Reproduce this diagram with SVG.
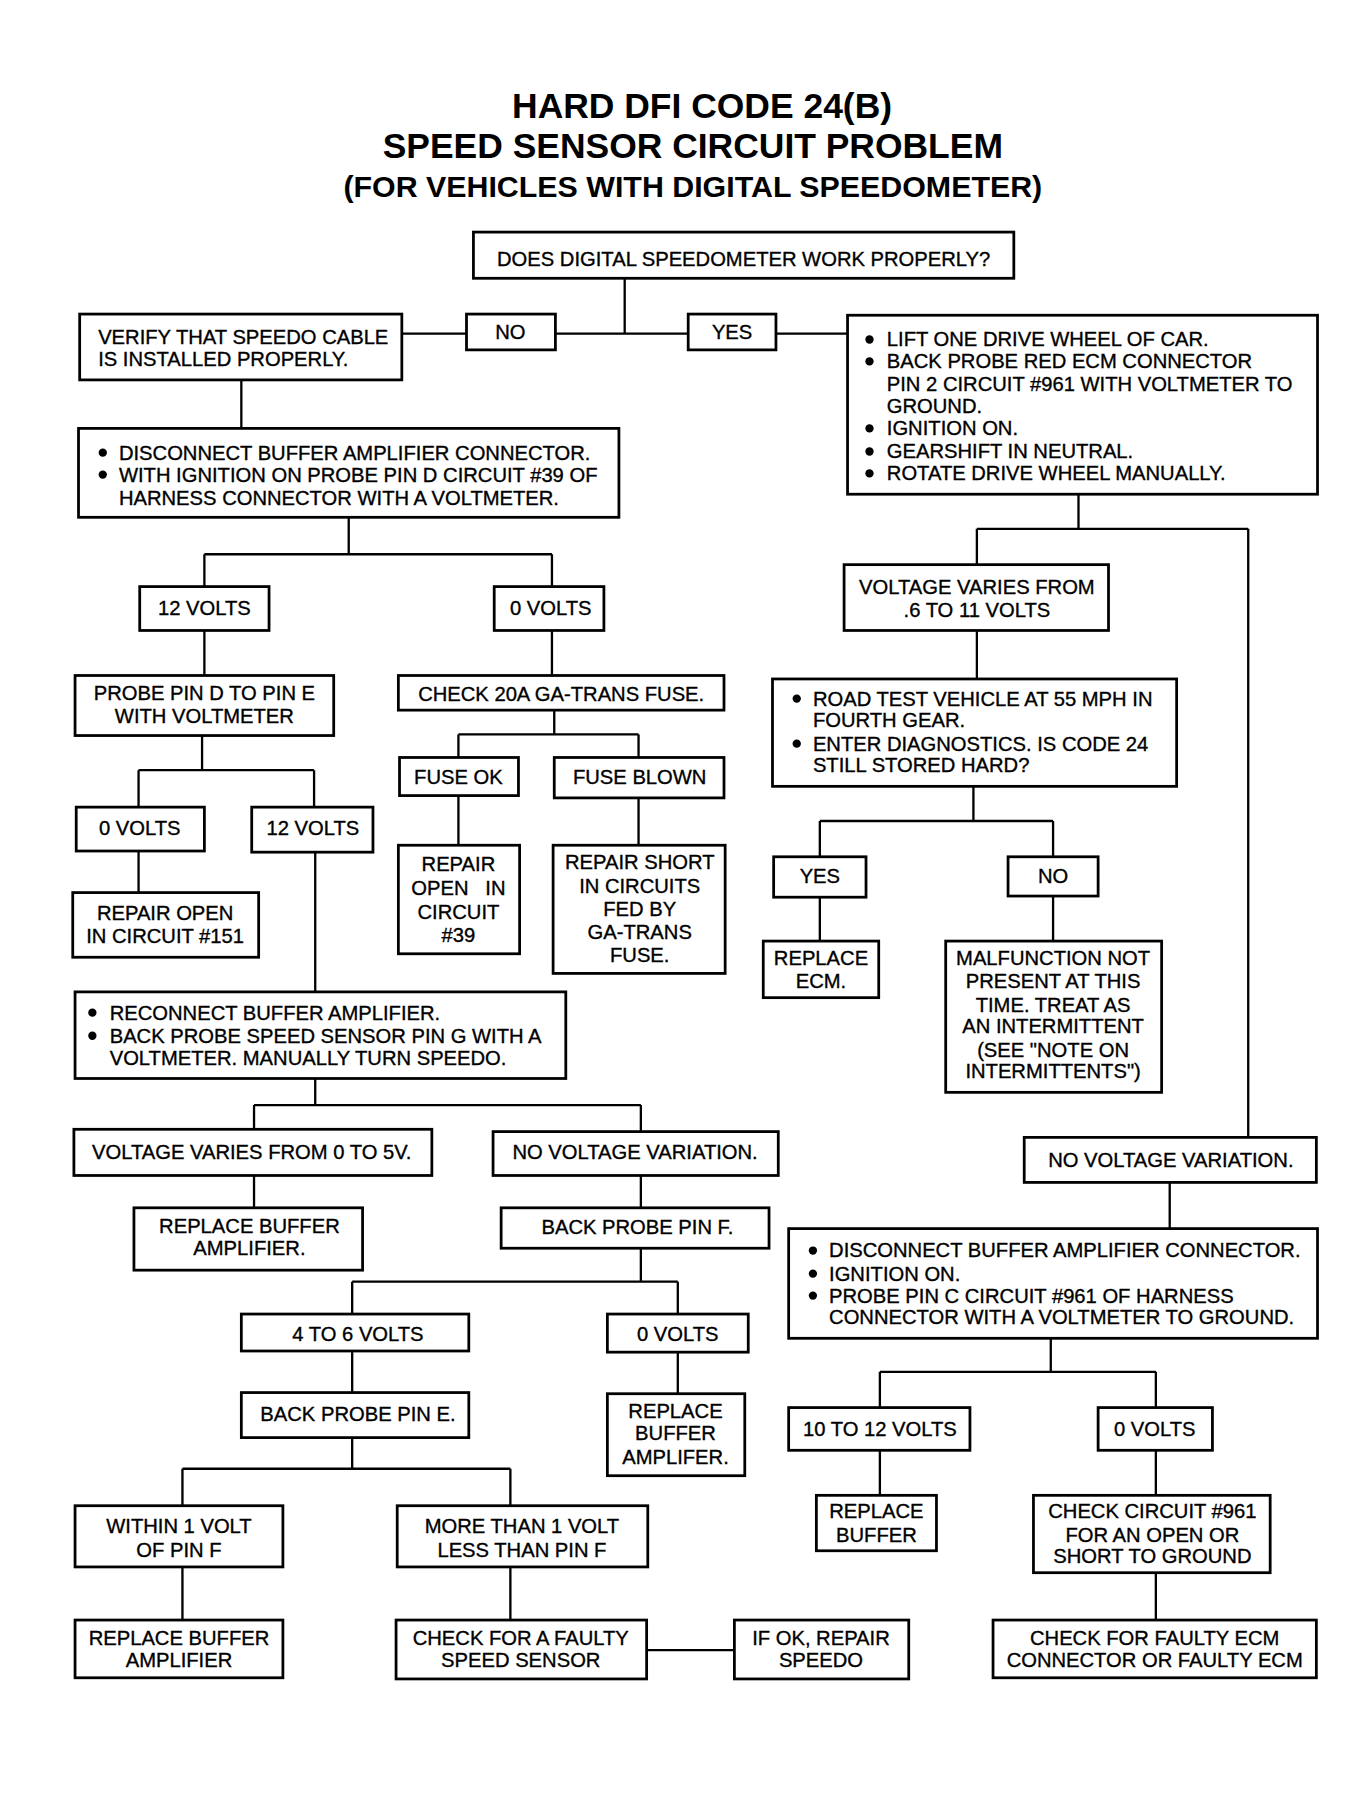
<svg xmlns="http://www.w3.org/2000/svg" width="1370" height="1810" viewBox="0 0 1370 1810">
<style>
rect.b{fill:#fff;stroke:#000;stroke-width:2.4}
.c{fill:none;stroke:#000;stroke-width:2}
text{font-family:"Liberation Sans",Arial,sans-serif;font-size:17.5px;fill:#000;stroke:#000;stroke-width:0.3}
.m{text-anchor:middle}
.t1{font-size:30.7px;font-weight:bold;text-anchor:middle;stroke-width:0}
.t3{font-size:26.3px;font-weight:bold;text-anchor:middle;stroke-width:0}
.pre{white-space:pre}
</style>
<defs><circle id="dot" r="3.6" fill="#000"/></defs>
<rect width="1370" height="1810" fill="#fff"/>
<g transform="scale(1.1547)">
<g id="title">
<text class="t1" x="608" y="102">HARD DFI CODE 24(B)</text>
<text class="t1" x="600" y="137">SPEED SENSOR CIRCUIT PROBLEM</text>
<text class="t3" x="600" y="171">(FOR VEHICLES WITH DIGITAL SPEEDOMETER)</text>
</g>
<g id="connectors">
<path class="c" d="M541,241V289M348,289H404M481,289H596M672,289H734"/>
<path class="c" d="M209,329V371"/>
<path class="c" d="M302,448V480M177,480H478M177,480V508M478,480V508"/>
<path class="c" d="M177,546V585M478,546V585"/>
<path class="c" d="M934,428V458M846,458H1081M846,458V489M1081,458V985"/>
<path class="c" d="M846,546V588"/>
<path class="c" d="M175,637V667M120,667H272M120,667V699M272,667V699"/>
<path class="c" d="M480,615V636M397,636H553M397,636V656M553,636V656"/>
<path class="c" d="M397,689V732M553,691V732"/>
<path class="c" d="M843,681V711M710,711H912M710,711V742M912,711V742"/>
<path class="c" d="M710,777V815M912,776V815"/>
<path class="c" d="M120,737V773"/>
<path class="c" d="M273,738V859"/>
<path class="c" d="M273,934V957M220,957H555M220,957V978M555,957V980"/>
<path class="c" d="M220,1018V1046M555,1018V1046M1013,1024V1064"/>
<path class="c" d="M555,1081V1110M305,1110H587M305,1110V1138M587,1110V1138"/>
<path class="c" d="M305,1170V1206M587,1171V1207"/>
<path class="c" d="M305,1245V1272M158,1272H442M158,1272V1304M442,1272V1304"/>
<path class="c" d="M158,1357V1403M442,1357V1403M560,1429H636"/>
<path class="c" d="M910,1159V1188M762,1188H1001M762,1188V1219M1001,1188V1219"/>
<path class="c" d="M762,1256V1295M1001,1256V1295M1001,1362V1403"/>
</g>
<g id="q"><rect class="b" x="410" y="201" width="468" height="40"/><text class="m" x="644" y="230">DOES DIGITAL SPEEDOMETER WORK PROPERLY?</text></g>
<g id="no1"><rect class="b" x="404" y="272" width="77" height="31"/><text class="m" x="442" y="294">NO</text></g>
<g id="yes1"><rect class="b" x="596" y="272" width="76" height="31"/><text class="m" x="634" y="294">YES</text></g>
<g id="verify"><rect class="b" x="69" y="272" width="279" height="57"/><text x="85" y="298">VERIFY THAT SPEEDO CABLE</text><text x="85" y="317">IS INSTALLED PROPERLY.</text></g>
<g id="lift"><rect class="b" x="734" y="273" width="407" height="155"/>
<use href="#dot" x="753" y="294"/><use href="#dot" x="753" y="313"/><use href="#dot" x="753" y="371"/><use href="#dot" x="753" y="391"/><use href="#dot" x="753" y="410"/>
<text x="768" y="300">LIFT ONE DRIVE WHEEL OF CAR.</text><text x="768" y="319">BACK PROBE RED ECM CONNECTOR</text><text x="768" y="339">PIN 2 CIRCUIT #961 WITH VOLTMETER TO</text><text x="768" y="358">GROUND.</text><text x="768" y="377">IGNITION ON.</text><text x="768" y="397">GEARSHIFT IN NEUTRAL.</text><text x="768" y="416">ROTATE DRIVE WHEEL MANUALLY.</text></g>
<g id="disc1"><rect class="b" x="68" y="371" width="468" height="77"/>
<use href="#dot" x="89" y="392"/><use href="#dot" x="89" y="411"/>
<text x="103" y="398">DISCONNECT BUFFER AMPLIFIER CONNECTOR.</text><text x="103" y="417">WITH IGNITION ON PROBE PIN D CIRCUIT #39 OF</text><text x="103" y="437">HARNESS CONNECTOR WITH A VOLTMETER.</text></g>
<g id="v12a"><rect class="b" x="121" y="508" width="112" height="38"/><text class="m" x="177" y="533">12 VOLTS</text></g>
<g id="v0a"><rect class="b" x="428" y="508" width="95" height="38"/><text class="m" x="477" y="533">0 VOLTS</text></g>
<g id="vvar"><rect class="b" x="731" y="489" width="229" height="57"/><text class="m" x="846" y="514">VOLTAGE VARIES FROM</text><text class="m" x="846" y="534">.6 TO 11 VOLTS</text></g>
<g id="probede"><rect class="b" x="65" y="585" width="224" height="52"/><text class="m" x="177" y="606">PROBE PIN D TO PIN E</text><text class="m" x="177" y="626">WITH VOLTMETER</text></g>
<g id="fuse"><rect class="b" x="345" y="585" width="282" height="30"/><text class="m" x="486" y="607">CHECK 20A GA-TRANS FUSE.</text></g>
<g id="road"><rect class="b" x="669" y="588" width="350" height="93"/>
<use href="#dot" x="690" y="605"/><use href="#dot" x="690" y="644"/>
<text x="704" y="611">ROAD TEST VEHICLE AT 55 MPH IN</text><text x="704" y="630">FOURTH GEAR.</text><text x="704" y="650">ENTER DIAGNOSTICS. IS CODE 24</text><text x="704" y="669">STILL STORED HARD?</text></g>
<g id="fuseok"><rect class="b" x="346" y="656" width="103" height="33"/><text class="m" x="397" y="679">FUSE OK</text></g>
<g id="fuseblown"><rect class="b" x="480" y="656" width="147" height="35"/><text class="m" x="554" y="679">FUSE BLOWN</text></g>
<g id="v0b"><rect class="b" x="66" y="699" width="111" height="38"/><text class="m" x="121" y="723">0 VOLTS</text></g>
<g id="v12b"><rect class="b" x="218" y="699" width="105" height="39"/><text class="m" x="271" y="723">12 VOLTS</text></g>
<g id="rep39"><rect class="b" x="345" y="732" width="105" height="94"/><text class="m" x="397" y="754">REPAIR</text><text class="m pre" x="397" y="775">OPEN   IN</text><text class="m" x="397" y="796">CIRCUIT</text><text class="m" x="397" y="816">#39</text></g>
<g id="repshort"><rect class="b" x="479" y="732" width="149" height="111"/><text class="m" x="554" y="753">REPAIR SHORT</text><text class="m" x="554" y="773">IN CIRCUITS</text><text class="m" x="554" y="793">FED BY</text><text class="m" x="554" y="813">GA-TRANS</text><text class="m" x="554" y="833">FUSE.</text></g>
<g id="yes2"><rect class="b" x="670" y="742" width="80" height="35"/><text class="m" x="710" y="765">YES</text></g>
<g id="no2"><rect class="b" x="873" y="742" width="78" height="34"/><text class="m" x="912" y="765">NO</text></g>
<g id="rep151"><rect class="b" x="63" y="773" width="161" height="56"/><text class="m" x="143" y="797">REPAIR OPEN</text><text class="m" x="143" y="817">IN CIRCUIT #151</text></g>
<g id="repecm"><rect class="b" x="661" y="815" width="100" height="49"/><text class="m" x="711" y="836">REPLACE</text><text class="m" x="711" y="856">ECM.</text></g>
<g id="malf"><rect class="b" x="819" y="815" width="187" height="131"/><text class="m" x="912" y="836">MALFUNCTION NOT</text><text class="m" x="912" y="856">PRESENT AT THIS</text><text class="m" x="912" y="876">TIME. TREAT AS</text><text class="m" x="912" y="895">AN INTERMITTENT</text><text class="m" x="912" y="915">(SEE "NOTE ON</text><text class="m" x="912" y="934">INTERMITTENTS")</text></g>
<g id="reconnect"><rect class="b" x="65" y="859" width="425" height="75"/>
<use href="#dot" x="80" y="877"/><use href="#dot" x="80" y="897"/>
<text x="95" y="883">RECONNECT BUFFER AMPLIFIER.</text><text x="95" y="903">BACK PROBE SPEED SENSOR PIN G WITH A</text><text x="95" y="922">VOLTMETER. MANUALLY TURN SPEEDO.</text></g>
<g id="v05"><rect class="b" x="64" y="978" width="310" height="40"/><text class="m" x="218" y="1004">VOLTAGE VARIES FROM 0 TO 5V.</text></g>
<g id="novar1"><rect class="b" x="427" y="980" width="247" height="38"/><text class="m" x="550" y="1004">NO VOLTAGE VARIATION.</text></g>
<g id="novar2"><rect class="b" x="887" y="985" width="253" height="39"/><text class="m" x="1014" y="1011">NO VOLTAGE VARIATION.</text></g>
<g id="repbuf1"><rect class="b" x="116" y="1046" width="198" height="54"/><text class="m" x="216" y="1068">REPLACE BUFFER</text><text class="m" x="216" y="1087">AMPLIFIER.</text></g>
<g id="pinf"><rect class="b" x="434" y="1046" width="232" height="35"/><text class="m" x="552" y="1069">BACK PROBE PIN F.</text></g>
<g id="disc2"><rect class="b" x="683" y="1064" width="458" height="95"/>
<use href="#dot" x="704" y="1083"/><use href="#dot" x="704" y="1103"/><use href="#dot" x="704" y="1122"/>
<text x="718" y="1089">DISCONNECT BUFFER AMPLIFIER CONNECTOR.</text><text x="718" y="1109">IGNITION ON.</text><text x="718" y="1128">PROBE PIN C CIRCUIT #961 OF HARNESS</text><text x="718" y="1147">CONNECTOR WITH A VOLTMETER TO GROUND.</text></g>
<g id="v46"><rect class="b" x="209" y="1138" width="197" height="32"/><text class="m" x="310" y="1161">4 TO 6 VOLTS</text></g>
<g id="v0c"><rect class="b" x="526" y="1138" width="122" height="33"/><text class="m" x="587" y="1161">0 VOLTS</text></g>
<g id="pine"><rect class="b" x="209" y="1206" width="197" height="39"/><text class="m" x="310" y="1231">BACK PROBE PIN E.</text></g>
<g id="repbuf2"><rect class="b" x="526" y="1207" width="119" height="71"/><text class="m" x="585" y="1228">REPLACE</text><text class="m" x="585" y="1247">BUFFER</text><text class="m" x="585" y="1268">AMPLIFER.</text></g>
<g id="v1012"><rect class="b" x="683" y="1219" width="157" height="37"/><text class="m" x="762" y="1244">10 TO 12 VOLTS</text></g>
<g id="v0d"><rect class="b" x="951" y="1219" width="99" height="37"/><text class="m" x="1000" y="1244">0 VOLTS</text></g>
<g id="repbuf3"><rect class="b" x="707" y="1295" width="104" height="48"/><text class="m" x="759" y="1315">REPLACE</text><text class="m" x="759" y="1335">BUFFER</text></g>
<g id="chk961"><rect class="b" x="895" y="1295" width="205" height="67"/><text class="m" x="998" y="1315">CHECK CIRCUIT #961</text><text class="m" x="998" y="1335">FOR AN OPEN OR</text><text class="m" x="998" y="1354">SHORT TO GROUND</text></g>
<g id="within"><rect class="b" x="65" y="1304" width="180" height="53"/><text class="m" x="155" y="1328">WITHIN 1 VOLT</text><text class="m" x="155" y="1348">OF PIN F</text></g>
<g id="morethan"><rect class="b" x="344" y="1304" width="217" height="53"/><text class="m" x="452" y="1328">MORE THAN 1 VOLT</text><text class="m" x="452" y="1348">LESS THAN PIN F</text></g>
<g id="repbuf4"><rect class="b" x="65" y="1403" width="180" height="50"/><text class="m" x="155" y="1425">REPLACE BUFFER</text><text class="m" x="155" y="1444">AMPLIFIER</text></g>
<g id="chksensor"><rect class="b" x="343" y="1403" width="217" height="51"/><text class="m" x="451" y="1425">CHECK FOR A FAULTY</text><text class="m" x="451" y="1444">SPEED SENSOR</text></g>
<g id="ifok"><rect class="b" x="636" y="1403" width="151" height="51"/><text class="m" x="711" y="1425">IF OK, REPAIR</text><text class="m" x="711" y="1444">SPEEDO</text></g>
<g id="chkecm"><rect class="b" x="860" y="1403" width="280" height="50"/><text class="m" x="1000" y="1425">CHECK FOR FAULTY ECM</text><text class="m" x="1000" y="1444">CONNECTOR OR FAULTY ECM</text></g>
</g>
</svg>
